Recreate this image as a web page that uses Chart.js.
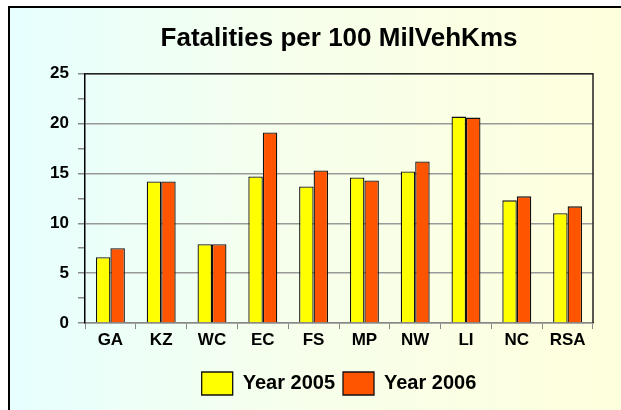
<!DOCTYPE html>
<html lang="en">
<head>
  <meta charset="UTF-8" />
  <title>Fatalities per 100 MilVehKms</title>
  <script src="https://cdn.jsdelivr.net/npm/chart.js"></script>
  <style>
    html, body {
      margin: 0;
      background: #fff;
      overflow: hidden;
      font-family: "Liberation Sans", Arial, sans-serif;
    }
    .wrap {
      position: relative;
      width: 621px;
      height: 410px;
      overflow: hidden;
    }
    .frame {
      position: absolute;
      left: 8px;
      top: 6px;
      right: -6px;
      bottom: -6px;
      border-left: 2px solid #000;
      border-top: 2px solid #000;
      background: linear-gradient(to right, #e6ffff, #f6ffec 45%, #ffffdc);
    }
    canvas {
      position: absolute;
      left: 0;
      top: 0;
    }
  </style>
</head>
<body>
  <div class="wrap">
    <div class="frame"></div>
    <canvas id="chart" width="621" height="410"></canvas>
  </div>

  <script>
    // values
    const regions = ['GA', 'KZ', 'WC', 'EC', 'FS', 'MP', 'NW', 'LI', 'NC', 'RSA'];
    const year2005 = [6.6, 14.2, 7.9, 14.7, 13.7, 14.6, 15.2, 20.7, 12.3, 11.0];
    const year2006 = [7.5, 14.2, 7.9, 19.1, 15.3, 14.3, 16.2, 20.6, 12.7, 11.7];

    const font = 'Liberation Sans, Arial, sans-serif';

    // dark frame on top and right of the plot area
    const plotFrame = {
      id: 'plotFrame',
      afterDatasetsDraw(chart) {
        const a = chart.chartArea;
        const c = chart.ctx;
        c.save();
        c.lineWidth = 1.5;
        c.strokeStyle = '#222';
        c.beginPath();
        c.moveTo(a.left, a.top);
        c.lineTo(a.right, a.top);
        c.lineTo(a.right, a.bottom);
        c.stroke();
        c.restore();
      }
    };

    new Chart(document.getElementById('chart'), {
      type: 'bar',
      data: {
        labels: regions,
        datasets: [
          {
            label: 'Year 2005',
            data: year2005,
            backgroundColor: '#ffff00',
            borderColor: '#111',
            borderWidth: 1.3
          },
          {
            label: 'Year 2006',
            data: year2006,
            backgroundColor: '#ff5500',
            borderColor: '#111',
            borderWidth: 1.3
          }
        ]
      },
      options: {
        responsive: false,
        animation: false,
        layout: { padding: { left: 8, right: 28, top: 20, bottom: 5 } },
        datasets: {
          bar: { categoryPercentage: 0.57, barPercentage: 1.0 }
        },
        plugins: {
          title: {
            display: true,
            text: 'Fatalities per 100 MilVehKms',
            fullSize: false,
            color: '#000',
            font: { family: font, size: 26, weight: 'bold' },
            padding: { top: 3, bottom: 19.5 }
          },
          legend: {
            position: 'bottom',
            fullSize: false,
            labels: {
              color: '#000',
              boxWidth: 31,
              boxHeight: 23,
              padding: 8,
              font: { family: font, size: 20, weight: 'bold' }
            }
          },
          tooltip: { enabled: false }
        },
        scales: {
          x: {
            offset: true,
            afterFit(scale) { scale.height = 41; },
            grid: {
              offset: true,
              drawOnChartArea: false,
              tickLength: 6,
              tickColor: '#888'
            },
            border: { color: '#888', width: 1.5 },
            ticks: {
              color: '#000',
              padding: 1,
              font: { family: font, size: 17, weight: 'bold' }
            }
          },
          y: {
            min: 0,
            max: 25,
            afterFit(scale) { scale.width = 77; },
            grid: {
              tickLength: 7,
              color: (ctx) => ctx.tick && ctx.tick.value % 5 === 0 ? '#999' : 'rgba(0,0,0,0)',
              tickColor: '#888',
              lineWidth: 1.5
            },
            border: { color: '#000', width: 1.5 },
            ticks: {
              stepSize: 2.5,
              autoSkip: false,
              color: '#000',
              padding: 9,
              font: { family: font, size: 17, weight: 'bold' },
              callback: (v) => v % 5 === 0 ? v : ''
            }
          }
        }
      },
      plugins: [plotFrame]
    });
  </script>
</body>
</html>
